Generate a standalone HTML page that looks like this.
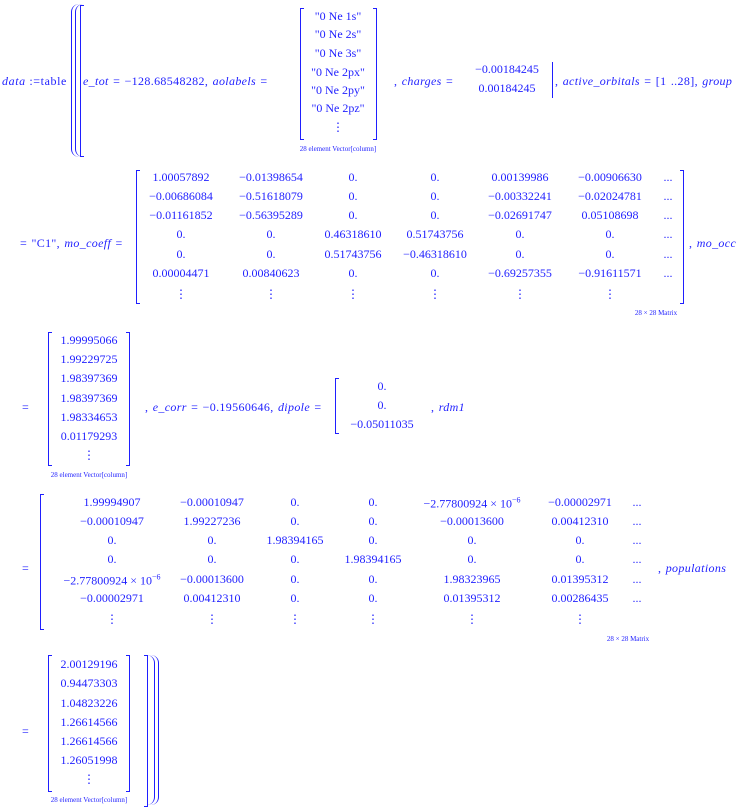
<!DOCTYPE html>
<html><head><meta charset="utf-8"><style>
body{margin:0;width:756px;height:807px;background:#fff;position:relative;overflow:hidden;font-family:"Liberation Serif",serif;font-size:12px;color:#1f1fff}
.c{position:absolute;transform:translate(-50%,-50%);white-space:nowrap;line-height:14px}
.l{position:absolute;transform:translateY(-50%);white-space:nowrap;line-height:14px;letter-spacing:0.35px;word-spacing:1px}
.s{font-size:7px}
i{font-style:italic}
.bl{position:absolute;border:1.4px solid #1f1fff;border-right:none;width:3px}
.br{position:absolute;border:1.4px solid #1f1fff;border-left:none;width:3px}
</style></head><body>
<!-- Block 1 -->
<div class="l" style="left:2px;top:81px;letter-spacing:0.6px;word-spacing:0"><i>data</i> :=table</div>
<div style="position:absolute;left:71px;top:4px;width:10px;height:153px;border-left:1.5px solid #1f1fff;border-radius:8px 0 0 8px"></div>
<div style="position:absolute;left:75px;top:4px;width:10px;height:153px;border-left:1.5px solid #1f1fff;border-radius:8px 0 0 8px"></div>
<div class="bl" style="left:80px;top:5px;height:150px"></div>
<div class="l" style="left:83px;top:81px"><i>e_tot</i> = &minus;128.68548282, <i>aolabels</i> =</div>
<div class="bl" style="left:300px;top:8px;height:130px"></div>
<div class="br" style="left:373px;top:8px;height:130px"></div>
<div class="c" style="left:338px;top:16px">"0 Ne 1s"</div>
<div class="c" style="left:338px;top:34px">"0 Ne 2s"</div>
<div class="c" style="left:338px;top:53px">"0 Ne 3s"</div>
<div class="c" style="left:338px;top:72px">"0 Ne 2px"</div>
<div class="c" style="left:338px;top:90px">"0 Ne 2py"</div>
<div class="c" style="left:338px;top:108px">"0 Ne 2pz"</div>
<div class="c" style="left:338px;top:127px">&#8942;</div>
<div class="c s" style="left:338px;top:149px">28 element Vector[column]</div>
<div class="l" style="left:394px;top:81px">, <i>charges</i> =</div>
<div class="c" style="left:507px;top:69px">&minus;0.00184245</div>
<div class="c" style="left:507px;top:88px">0.00184245</div>
<div style="position:absolute;left:552px;top:62px;height:36px;border-left:1.4px solid #1f1fff"></div>
<div class="l" style="left:555px;top:81px">, <i>active_orbitals</i> = [1 ..28], <i>group</i></div>
<!-- Block 2 -->
<div class="l" style="left:20px;top:243px">= "C1", <i>mo_coeff</i> =</div>
<div class="bl" style="left:136px;top:170px;height:132px"></div>
<div class="br" style="left:680px;top:170px;height:132px"></div>
<div class="c" style="left:181px;top:177px">1.00057892</div><div class="c" style="left:271px;top:177px">&minus;0.01398654</div><div class="c" style="left:353px;top:177px">0.</div><div class="c" style="left:435px;top:177px">0.</div><div class="c" style="left:520px;top:177px">0.00139986</div><div class="c" style="left:610px;top:177px">&minus;0.00906630</div><div class="c" style="left:668px;top:177px">...</div>
<div class="c" style="left:181px;top:196px">&minus;0.00686084</div><div class="c" style="left:271px;top:196px">&minus;0.51618079</div><div class="c" style="left:353px;top:196px">0.</div><div class="c" style="left:435px;top:196px">0.</div><div class="c" style="left:520px;top:196px">&minus;0.00332241</div><div class="c" style="left:610px;top:196px">&minus;0.02024781</div><div class="c" style="left:668px;top:196px">...</div>
<div class="c" style="left:181px;top:215px">&minus;0.01161852</div><div class="c" style="left:271px;top:215px">&minus;0.56395289</div><div class="c" style="left:353px;top:215px">0.</div><div class="c" style="left:435px;top:215px">0.</div><div class="c" style="left:520px;top:215px">&minus;0.02691747</div><div class="c" style="left:610px;top:215px">0.05108698</div><div class="c" style="left:668px;top:215px">...</div>
<div class="c" style="left:181px;top:234px">0.</div><div class="c" style="left:271px;top:234px">0.</div><div class="c" style="left:353px;top:234px">0.46318610</div><div class="c" style="left:435px;top:234px">0.51743756</div><div class="c" style="left:520px;top:234px">0.</div><div class="c" style="left:610px;top:234px">0.</div><div class="c" style="left:668px;top:234px">...</div>
<div class="c" style="left:181px;top:254px">0.</div><div class="c" style="left:271px;top:254px">0.</div><div class="c" style="left:353px;top:254px">0.51743756</div><div class="c" style="left:435px;top:254px">&minus;0.46318610</div><div class="c" style="left:520px;top:254px">0.</div><div class="c" style="left:610px;top:254px">0.</div><div class="c" style="left:668px;top:254px">...</div>
<div class="c" style="left:181px;top:273px">0.00004471</div><div class="c" style="left:271px;top:273px">0.00840623</div><div class="c" style="left:353px;top:273px">0.</div><div class="c" style="left:435px;top:273px">0.</div><div class="c" style="left:520px;top:273px">&minus;0.69257355</div><div class="c" style="left:610px;top:273px">&minus;0.91611571</div><div class="c" style="left:668px;top:273px">...</div>
<div class="c" style="left:181px;top:294px">&#8942;</div><div class="c" style="left:271px;top:294px">&#8942;</div><div class="c" style="left:353px;top:294px">&#8942;</div><div class="c" style="left:435px;top:294px">&#8942;</div><div class="c" style="left:520px;top:294px">&#8942;</div><div class="c" style="left:610px;top:294px">&#8942;</div>
<div class="c s" style="left:656px;top:313px">28 &times; 28 Matrix</div>
<div class="l" style="left:689px;top:243px">, <i>mo_occ</i></div>
<!-- Block 3 -->
<div class="l" style="left:22px;top:407px">=</div>
<div class="bl" style="left:48px;top:332px;height:132px"></div>
<div class="br" style="left:126px;top:332px;height:132px"></div>
<div class="c" style="left:89px;top:340px">1.99995066</div>
<div class="c" style="left:89px;top:359px">1.99229725</div>
<div class="c" style="left:89px;top:378px">1.98397369</div>
<div class="c" style="left:89px;top:398px">1.98397369</div>
<div class="c" style="left:89px;top:417px">1.98334653</div>
<div class="c" style="left:89px;top:436px">0.01179293</div>
<div class="c" style="left:89px;top:455px">&#8942;</div>
<div class="c s" style="left:89px;top:475px">28 element Vector[column]</div>
<div class="l" style="left:145px;top:407px">, <i>e_corr</i> = &minus;0.19560646, <i>dipole</i> =</div>
<div class="bl" style="left:335px;top:378px;height:54px"></div>
<div class="c" style="left:382px;top:386px">0.</div>
<div class="c" style="left:382px;top:405px">0.</div>
<div class="c" style="left:382px;top:424px">&minus;0.05011035</div>
<div class="l" style="left:431px;top:407px">, <i>rdm1</i></div>
<!-- Block 4 -->
<div class="l" style="left:22px;top:568px">=</div>
<div class="bl" style="left:40px;top:494px;height:134px"></div>
<div class="c" style="left:112px;top:502px">1.99994907</div><div class="c" style="left:212px;top:502px">&minus;0.00010947</div><div class="c" style="left:295px;top:502px">0.</div><div class="c" style="left:373px;top:502px">0.</div><div class="c" style="left:472px;top:502px">&minus;2.77800924 &times; 10<sup style="font-size:8px">&minus;6</sup></div><div class="c" style="left:580px;top:502px">&minus;0.00002971</div><div class="c" style="left:637px;top:502px">...</div>
<div class="c" style="left:112px;top:521px">&minus;0.00010947</div><div class="c" style="left:212px;top:521px">1.99227236</div><div class="c" style="left:295px;top:521px">0.</div><div class="c" style="left:373px;top:521px">0.</div><div class="c" style="left:472px;top:521px">&minus;0.00013600</div><div class="c" style="left:580px;top:521px">0.00412310</div><div class="c" style="left:637px;top:521px">...</div>
<div class="c" style="left:112px;top:540px">0.</div><div class="c" style="left:212px;top:540px">0.</div><div class="c" style="left:295px;top:540px">1.98394165</div><div class="c" style="left:373px;top:540px">0.</div><div class="c" style="left:472px;top:540px">0.</div><div class="c" style="left:580px;top:540px">0.</div><div class="c" style="left:637px;top:540px">...</div>
<div class="c" style="left:112px;top:559px">0.</div><div class="c" style="left:212px;top:559px">0.</div><div class="c" style="left:295px;top:559px">0.</div><div class="c" style="left:373px;top:559px">1.98394165</div><div class="c" style="left:472px;top:559px">0.</div><div class="c" style="left:580px;top:559px">0.</div><div class="c" style="left:637px;top:559px">...</div>
<div class="c" style="left:112px;top:579px">&minus;2.77800924 &times; 10<sup style="font-size:8px">&minus;6</sup></div><div class="c" style="left:212px;top:579px">&minus;0.00013600</div><div class="c" style="left:295px;top:579px">0.</div><div class="c" style="left:373px;top:579px">0.</div><div class="c" style="left:472px;top:579px">1.98323965</div><div class="c" style="left:580px;top:579px">0.01395312</div><div class="c" style="left:637px;top:579px">...</div>
<div class="c" style="left:112px;top:598px">&minus;0.00002971</div><div class="c" style="left:212px;top:598px">0.00412310</div><div class="c" style="left:295px;top:598px">0.</div><div class="c" style="left:373px;top:598px">0.</div><div class="c" style="left:472px;top:598px">0.01395312</div><div class="c" style="left:580px;top:598px">0.00286435</div><div class="c" style="left:637px;top:598px">...</div>
<div class="c" style="left:112px;top:619px">&#8942;</div><div class="c" style="left:212px;top:619px">&#8942;</div><div class="c" style="left:295px;top:619px">&#8942;</div><div class="c" style="left:373px;top:619px">&#8942;</div><div class="c" style="left:472px;top:619px">&#8942;</div><div class="c" style="left:580px;top:619px">&#8942;</div>
<div class="c s" style="left:628px;top:639px">28 &times; 28 Matrix</div>
<div class="l" style="left:658px;top:568px">, <i>populations</i></div>
<!-- Block 5 -->
<div class="l" style="left:22px;top:731px">=</div>
<div class="bl" style="left:48px;top:655px;height:135px"></div>
<div class="br" style="left:126px;top:655px;height:135px"></div>
<div class="c" style="left:89px;top:664px">2.00129196</div>
<div class="c" style="left:89px;top:683px">0.94473303</div>
<div class="c" style="left:89px;top:703px">1.04823226</div>
<div class="c" style="left:89px;top:722px">1.26614566</div>
<div class="c" style="left:89px;top:741px">1.26614566</div>
<div class="c" style="left:89px;top:760px">1.26051998</div>
<div class="c" style="left:89px;top:779px">&#8942;</div>
<div class="c s" style="left:89px;top:800px">28 element Vector[column]</div>
<div class="br" style="left:144px;top:655px;height:150px"></div>
<div style="position:absolute;left:144px;top:655px;width:10px;height:150px;border-right:1.5px solid #1f1fff;border-radius:0 8px 8px 0"></div>
<div style="position:absolute;left:148px;top:655px;width:10px;height:150px;border-right:1.5px solid #1f1fff;border-radius:0 8px 8px 0"></div>
</body></html>
